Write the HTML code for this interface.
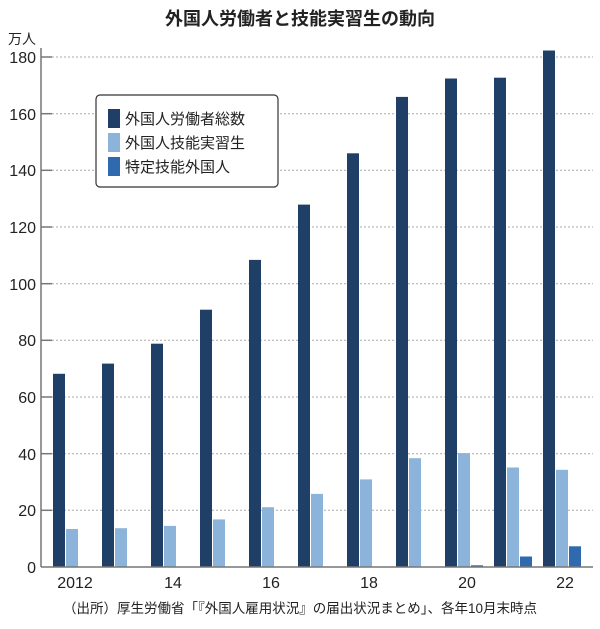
<!DOCTYPE html><html><head><meta charset="utf-8"><style>body{margin:0;background:#fff}</style></head><body>
<svg width="600" height="624" xmlns="http://www.w3.org/2000/svg" font-family="Liberation Sans, Noto Sans CJK JP, sans-serif">
<text x="300" y="25" text-anchor="middle" font-size="18" font-weight="bold" fill="#222">外国人労働者と技能実習生の動向</text>
<text x="8" y="44" font-size="14" fill="#222">万人</text>
<g stroke="#aaa" stroke-dasharray="2,2" stroke-width="1">
<line x1="52" x2="593" y1="57" y2="57"/><line x1="52" x2="593" y1="113.7" y2="113.7"/><line x1="52" x2="593" y1="170.3" y2="170.3"/><line x1="52" x2="593" y1="227" y2="227"/><line x1="52" x2="593" y1="283.7" y2="283.7"/><line x1="52" x2="593" y1="340.3" y2="340.3"/><line x1="52" x2="593" y1="397" y2="397"/><line x1="52" x2="593" y1="453.7" y2="453.7"/><line x1="52" x2="593" y1="510.3" y2="510.3"/>
</g>
<g stroke="#777" stroke-width="1.5">
<line x1="41" x2="41" y1="48" y2="567"/>
<line x1="41" x2="52" y1="57" y2="57"/><line x1="41" x2="52" y1="113.7" y2="113.7"/><line x1="41" x2="52" y1="170.3" y2="170.3"/><line x1="41" x2="52" y1="227" y2="227"/><line x1="41" x2="52" y1="283.7" y2="283.7"/><line x1="41" x2="52" y1="340.3" y2="340.3"/><line x1="41" x2="52" y1="397" y2="397"/><line x1="41" x2="52" y1="453.7" y2="453.7"/><line x1="41" x2="52" y1="510.3" y2="510.3"/>
</g>
<g font-size="16" fill="#222" text-anchor="end">
<text x="36" y="63">180</text><text x="36" y="120">160</text><text x="36" y="176">140</text><text x="36" y="233">120</text><text x="36" y="290">100</text><text x="36" y="346">80</text><text x="36" y="403">60</text><text x="36" y="460">40</text><text x="36" y="516">20</text><text x="36" y="573">0</text>
</g>
<g fill="#1f3f66">
<rect x="53" y="373.8" width="12" height="193.2"/><rect x="102" y="363.6" width="12" height="203.4"/><rect x="151" y="343.7" width="12" height="223.3"/><rect x="200" y="309.7" width="12" height="257.3"/><rect x="249" y="259.9" width="12" height="307.1"/><rect x="298" y="204.6" width="12" height="362.4"/><rect x="347" y="153.3" width="12" height="413.7"/><rect x="396" y="96.9" width="12" height="470.1"/><rect x="445" y="78.5" width="12" height="488.5"/><rect x="494" y="77.7" width="12" height="489.3"/><rect x="543" y="50.5" width="12" height="516.5"/>
</g>
<g fill="#8cb3d9">
<rect x="66" y="529" width="12" height="38"/><rect x="115" y="528.2" width="12" height="38.8"/><rect x="164" y="525.9" width="12" height="41.1"/><rect x="213" y="519.4" width="12" height="47.6"/><rect x="262" y="507.2" width="12" height="59.8"/><rect x="311" y="493.9" width="12" height="73.1"/><rect x="360" y="479.4" width="12" height="87.6"/><rect x="409" y="458.2" width="12" height="108.8"/><rect x="458" y="453.1" width="12" height="113.9"/><rect x="507" y="467.5" width="12" height="99.5"/><rect x="556" y="469.8" width="12" height="97.2"/>
</g>
<g fill="#2e6aad">
<rect x="471" y="565.3" width="12" height="1.7"/><rect x="520" y="556.5" width="12" height="10.5"/><rect x="569" y="546.3" width="12" height="20.7"/>
</g>
<line x1="41" x2="593" y1="567" y2="567" stroke="#777" stroke-width="1.5"/>
<g font-size="16" fill="#222" text-anchor="middle">
<text x="75" y="588">2012</text><text x="173" y="588">14</text><text x="271" y="588">16</text><text x="369" y="588">18</text><text x="467" y="588">20</text><text x="565" y="588">22</text>
</g>
<text x="300" y="613" text-anchor="middle" font-size="13.5" fill="#222">（出所）厚生労働省「『外国人雇用状況』の届出状況まとめ」、各年10月末時点</text>
<rect x="96" y="95" width="182" height="92" rx="4" fill="#fff" stroke="#333" stroke-width="1.2"/>
<rect x="108" y="109" width="12" height="19" fill="#1f3f66"/><rect x="108" y="133" width="12" height="19" fill="#8cb3d9"/><rect x="108" y="157" width="12" height="19" fill="#2e6aad"/>
<g font-size="15" fill="#222"><text x="125" y="124">外国人労働者総数</text><text x="125" y="148">外国人技能実習生</text><text x="125" y="172">特定技能外国人</text></g>
</svg></body></html>
